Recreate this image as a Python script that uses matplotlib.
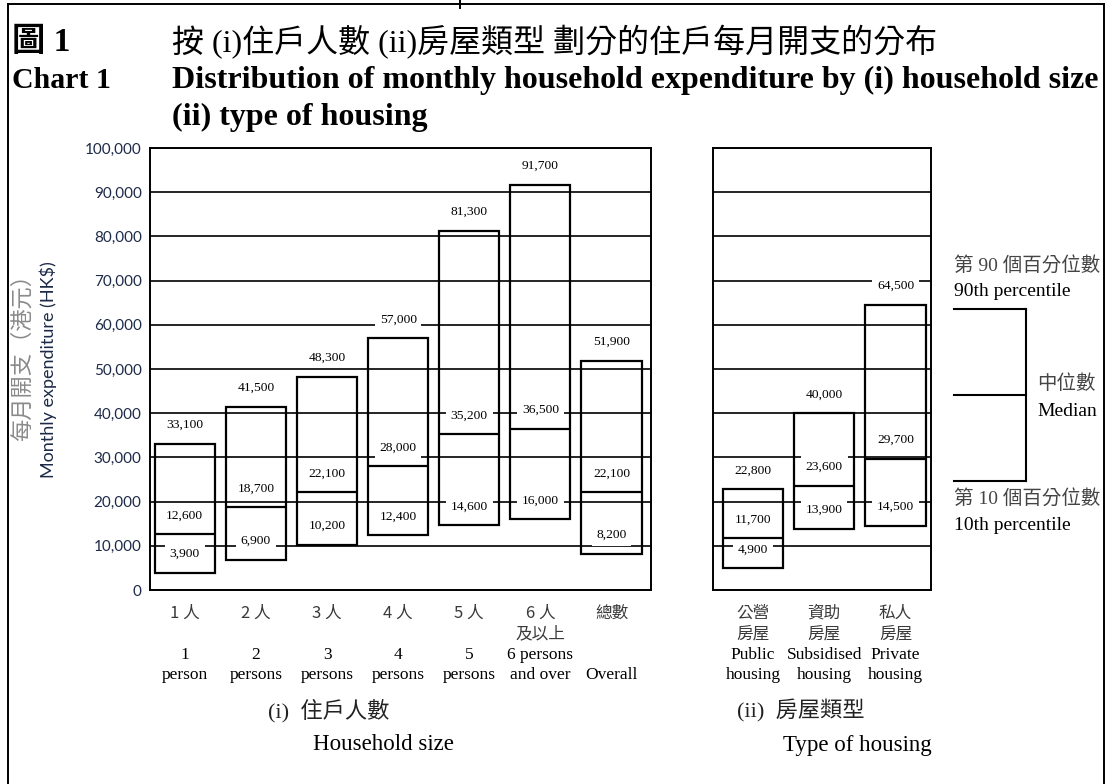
import matplotlib.pyplot as plt
from matplotlib.lines import Line2D
from matplotlib.transforms import blended_transform_factory

plt.rcParams['font.family'] = ['Liberation Serif', 'Noto Sans CJK TC']

# (i) household size
size_cn = ["1 人", "2 人", "3 人", "4 人", "5 人", "6 人", "總數"]
size_cn2 = ["", "", "", "", "", "及以上", ""]
size_en = ["1", "2", "3", "4", "5", "6 persons", ""]
size_en2 = ["person", "persons", "persons", "persons", "persons", "and over", "Overall"]
size_p10 = [3900, 6900, 10200, 12400, 14600, 16000, 8200]
size_med = [12600, 18700, 22100, 28000, 35200, 36500, 22100]
size_p90 = [33100, 41500, 48300, 57000, 81300, 91700, 51900]

# (ii) type of housing
house_cn = ["公營", "資助", "私人"]
house_cn2 = ["房屋", "房屋", "房屋"]
house_en = ["Public", "Subsidised", "Private"]
house_en2 = ["housing", "housing", "housing"]
house_p10 = [4900, 13900, 14500]
house_med = [11700, 23600, 29700]
house_p90 = [22800, 40000, 64500]

W, H = 1109, 784
fig = plt.figure(figsize=(W / 100, H / 100), dpi=100)


def fx(px):
    return px / W


def fy(py):
    return 1 - py / H


ax1 = fig.add_axes([fx(150), fy(590), fx(651) - fx(150), fy(148) - fy(590)])
ax2 = fig.add_axes([fx(713), fy(590), fx(931) - fx(713), fy(148) - fy(590)])

CN_COLOR = '#3a3a3a'


def draw_panel(ax, p10, med, p90, cn, cn2, en, en2, xlim):
    xs = list(range(len(p10)))
    w = 0.845
    ax.bar(xs, [b - a for a, b in zip(p10, p90)], bottom=p10, width=w,
           fill=False, edgecolor='black', linewidth=1.6, zorder=3)
    ax.hlines(med, [i - w / 2 for i in xs], [i + w / 2 for i in xs],
              color='black', lw=1.6, zorder=3)
    for i in xs:
        for v in (p10[i], med[i], p90[i]):
            ax.annotate(f"{v:,}", (i, v), xytext=(0, 13.5), textcoords='offset points',
                        ha='center', va='center', fontsize=9.7, zorder=2.5,
                        bbox=dict(boxstyle='square,pad=0.35', fc='white', ec='none'))
    ax.set_xlim(*xlim)
    ax.set_ylim(0, 100000)
    ax.set_yticks(range(0, 100001, 10000))
    ax.yaxis.grid(True, color='black', lw=1.2)
    ax.set_axisbelow(True)
    ax.set_xticks([])
    ax.tick_params(length=0)
    for s in ax.spines.values():
        s.set_linewidth(1.4)

    trans = blended_transform_factory(ax.transData, fig.transFigure)
    for i in xs:
        ax.text(i, fy(613), cn[i], transform=trans, ha='center', va='center',
                fontsize=12, color=CN_COLOR, family='Noto Sans CJK TC')
        ax.text(i, fy(634), cn2[i], transform=trans, ha='center', va='center',
                fontsize=12, color=CN_COLOR, family='Noto Sans CJK TC')
        ax.text(i, fy(655), en[i], transform=trans, ha='center', va='center', fontsize=12.5)
        ax.text(i, fy(675), en2[i], transform=trans, ha='center', va='center', fontsize=12.5)


draw_panel(ax1, size_p10, size_med, size_p90, size_cn, size_cn2, size_en, size_en2,
           (-0.49, 6.555))
draw_panel(ax2, house_p10, house_med, house_p90, house_cn, house_cn2, house_en, house_en2,
           (-0.561, 2.498))

ax1.set_yticklabels([f"{v:,}" for v in range(0, 100001, 10000)],
                    family='Lato', fontsize=11, color='#1c2a48')
ax1.tick_params(axis='y', pad=6)
ax2.set_yticklabels([])

# y-axis title
fig.text(fx(22), fy(352), "每月開支（港元）", rotation=90, ha='center', va='center',
         fontsize=16, color='#8a8a8a', family='Noto Sans CJK TC')
fig.text(fx(48), fy(370), "Monthly expenditure (HK$)", rotation=90, ha='center', va='center',
         fontsize=13, color='#1c2a48', family='Lato')

# titles
fig.text(fx(12), fy(42), "圖 1", fontsize=24, fontweight='bold', va='center')
fig.text(fx(12), fy(80), "Chart 1", fontsize=21.5, fontweight='bold', va='center')
fig.text(fx(172), fy(42), "按 (i)住戶人數 (ii)房屋類型 劃分的住戶每月開支的分布",
         fontsize=23, va='center')
fig.text(fx(172), fy(80), "Distribution of monthly household expenditure by (i) household size",
         fontsize=23, fontweight='bold', va='center')
fig.text(fx(172), fy(117), "(ii) type of housing", fontsize=23, fontweight='bold', va='center')

# group labels
fig.text(fx(268), fy(711), "(i)  住戶人數", fontsize=16, va='center', color='#222222')
fig.text(fx(383), fy(745), "Household size", fontsize=16.5, ha='center', va='center')
fig.text(fx(737), fy(711), "(ii)  房屋類型", fontsize=16, va='center', color='#222222')
fig.text(fx(857), fy(745), "Type of housing", fontsize=16.5, ha='center', va='center')

# legend key
fig.text(fx(954), fy(265), "第 90 個百分位數", fontsize=14, va='center', color='#444444')
fig.text(fx(954), fy(292), "90th percentile", fontsize=14, va='center')
fig.text(fx(1037), fy(384), "中位數", fontsize=14, va='center', color='#444444')
fig.text(fx(1037), fy(411), "Median", fontsize=14, va='center')
fig.text(fx(954), fy(498), "第 10 個百分位數", fontsize=14, va='center', color='#444444')
fig.text(fx(954), fy(525), "10th percentile", fontsize=14, va='center')

key = [([954, 1026], [309, 309]), ([954, 1026], [395, 395]), ([954, 1026], [481, 481]),
       ([1026, 1026], [309, 481])]
for xs_, ys_ in key:
    fig.add_artist(Line2D([fx(x) for x in xs_], [fy(y) for y in ys_], color='black', lw=1.5))

# outer frame
frame = [([8, 1104], [4, 4]), ([8, 8], [4, 784]), ([1104, 1104], [4, 784]), ([460, 460], [0, 8])]
for xs_, ys_ in frame:
    fig.add_artist(Line2D([fx(x) for x in xs_], [fy(y) for y in ys_], color='black', lw=1.4))

fig.savefig("out.png", dpi=100, facecolor='white')
